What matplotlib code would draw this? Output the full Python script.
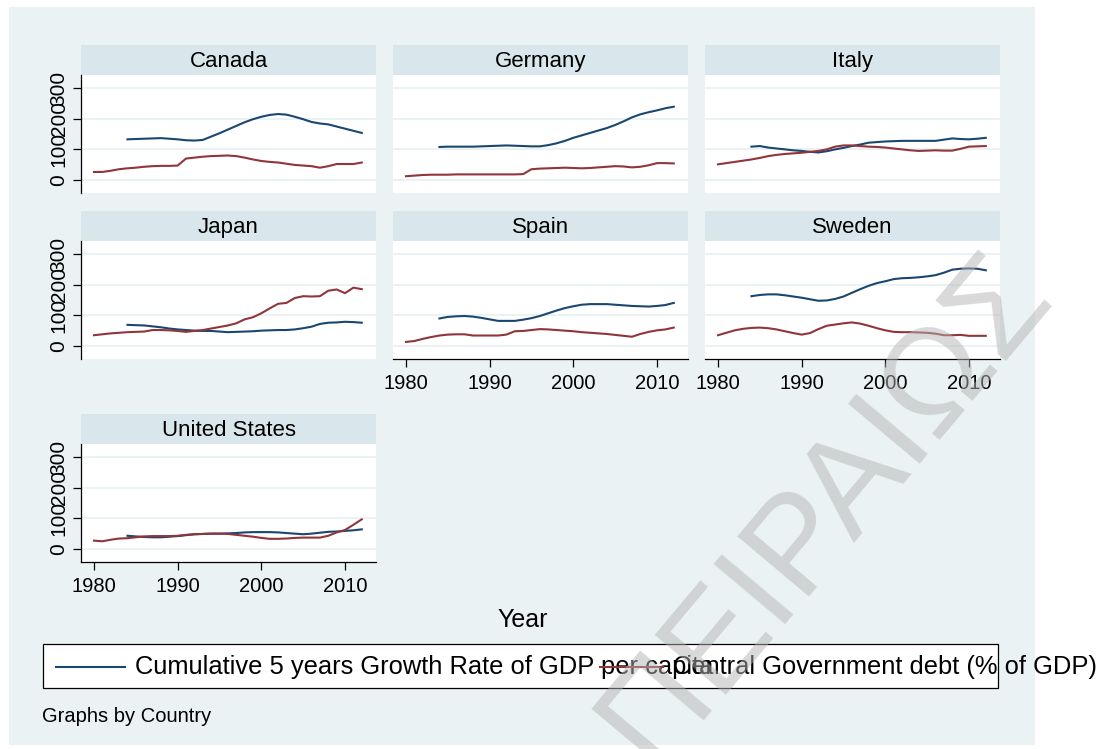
import matplotlib.pyplot as plt
from matplotlib.patches import Rectangle
from matplotlib.lines import Line2D

plt.rcParams['font.family'] = ['Liberation Sans', 'DejaVu Sans']

W, H = 1109, 749

years = list(range(1980, 2013))
growth_years = list(range(1984, 2013))

countries = ["Canada", "Germany", "Italy", "Japan", "Spain", "Sweden", "United States"]

# Central Government debt (% of GDP), 1980-2012
debt_canada = [26, 26, 30, 35, 38, 40, 43, 45, 46, 46, 47, 70, 73, 76, 78, 79, 80, 78, 73, 67,
               62, 59, 57, 53, 49, 47, 45, 40, 45, 52, 52, 52, 57]
debt_germany = [12, 14, 16, 17, 17, 17, 18, 18, 18, 18, 18, 18, 18, 18, 19, 35, 37, 38, 39, 40,
                39, 38, 39, 41, 43, 45, 44, 41, 43, 48, 55, 55, 54]
debt_italy = [51, 55, 59, 63, 67, 72, 78, 82, 85, 87, 89, 92, 95, 100, 109, 113, 113, 111, 109, 108,
              106, 103, 100, 97, 95, 96, 97, 96, 96, 102, 109, 110, 111]
debt_japan = [35, 38, 41, 43, 45, 46, 47, 52, 52, 51, 49, 46, 49, 52, 57, 62, 67, 74, 87, 94,
              107, 123, 138, 141, 157, 163, 162, 163, 181, 185, 173, 191, 186]
debt_spain = [13, 16, 23, 29, 34, 37, 38, 38, 34, 34, 34, 34, 37, 48, 49, 52, 55, 54, 52, 50,
              48, 45, 43, 41, 39, 36, 33, 30, 39, 46, 51, 54, 60]
debt_sweden = [35, 43, 51, 56, 59, 60, 58, 54, 48, 42, 37, 42, 55, 66, 70, 74, 77, 73, 66, 58,
               51, 46, 45, 45, 44, 43, 40, 35, 35, 36, 33, 33, 33]
debt_us = [27, 25, 30, 34, 35, 38, 41, 42, 42, 42, 43, 46, 48, 49, 50, 50, 49, 46, 43, 40,
           36, 33, 33, 34, 36, 37, 37, 37, 43, 54, 62, 79, 97]

# Cumulative 5 years growth rate of GDP per capita, 1984-2012
growth_canada = [133, 134, 135, 136, 137, 135, 133, 130, 129, 131, 142, 153, 165, 177, 189, 199,
                 207, 213, 216, 214, 207, 199, 190, 185, 182, 175, 168, 161, 154]
growth_germany = [108, 109, 109, 109, 109, 110, 111, 112, 113, 112, 111, 110, 110, 114, 120, 128,
                  138, 146, 154, 162, 170, 180, 192, 205, 215, 222, 228, 235, 240]
growth_italy = [109, 111, 106, 103, 100, 97, 95, 92, 90, 94, 100, 105, 111, 116, 122, 124,
                126, 127, 128, 128, 128, 128, 128, 132, 136, 134, 133, 135, 138]
growth_japan = [69, 68, 67, 64, 61, 57, 54, 52, 50, 49, 49, 47, 45, 46, 47, 48,
                50, 51, 52, 52, 54, 58, 63, 72, 76, 77, 79, 78, 76]
growth_spain = [90, 95, 97, 98, 96, 92, 87, 82, 82, 82, 86, 91, 98, 107, 116, 124,
                130, 135, 137, 137, 137, 135, 133, 131, 130, 129, 131, 134, 141]
growth_sweden = [163, 167, 169, 169, 166, 162, 158, 153, 148, 149, 154, 162, 174, 186, 197, 206,
                 212, 219, 222, 223, 225, 228, 232, 240, 250, 253, 254, 253, 248]
growth_us = [43, 41, 39, 38, 38, 40, 42, 45, 48, 49, 50, 50, 51, 52, 54, 55,
             55, 55, 54, 52, 50, 48, 50, 53, 56, 57, 59, 61, 64]

debt = [debt_canada, debt_germany, debt_italy, debt_japan, debt_spain, debt_sweden, debt_us]
growth = [growth_canada, growth_germany, growth_italy, growth_japan, growth_spain, growth_sweden, growth_us]

x_ticks = [1980, 1990, 2000, 2010]
y_ticks = [0, 100, 200, 300]

growth_label = "Cumulative 5 years Growth Rate of GDP per capita"
debt_label = "Central Government debt (% of GDP)"

NAVY = "#1A476F"
MAROON = "#90353B"
BG = "#EAF2F3"
STRIP = "#D9E6EB"


def box(x0, y0, x1, y1):
    # pixel box -> figure fraction
    return [x0 / W, 1 - y1 / H, (x1 - x0) / W, (y1 - y0) / H]


fig = plt.figure(figsize=(W / 100, H / 100), dpi=100, facecolor="white")
fig.patches.append(Rectangle((9 / W, 1 - 745 / H), (1035 - 9) / W, (745 - 7) / H,
                             transform=fig.transFigure, facecolor=BG, edgecolor="none", zorder=-10))

cols = [(81, 376), (393, 688), (705, 1000)]
rows = [(45, 75, 193), (211, 241, 359), (414, 444, 562)]

for i, name in enumerate(countries):
    r, c = divmod(i, 3)
    x0, x1 = cols[c]
    s0, p0, p1 = rows[r]

    st = fig.add_axes(box(x0, s0, x1, p0))
    st.set_facecolor(STRIP)
    st.set_xticks([])
    st.set_yticks([])
    for sp in st.spines.values():
        sp.set_visible(False)
    st.text(0.5, 0.45, name, ha="center", va="center", fontsize=16, transform=st.transAxes)

    ax = fig.add_axes(box(x0, p0, x1, p1))
    ax.set_facecolor("white")
    ax.set_xlim(1978.45, 2013.7)
    ax.set_ylim(-43, 344)
    for yv in y_ticks:
        ax.axhline(yv, color=BG, lw=1.4, zorder=1)
    ax.plot(growth_years, growth[i], color=NAVY, lw=1.5, zorder=3)
    ax.plot(years, debt[i], color=MAROON, lw=1.5, zorder=3)

    for sp in ["top", "right"]:
        ax.spines[sp].set_visible(False)

    show_x = name in ("Spain", "Sweden", "United States")
    show_y = c == 0
    ax.spines["bottom"].set_visible(show_x)
    ax.spines["left"].set_visible(show_y)
    ax.spines["bottom"].set_linewidth(0.9)
    ax.spines["left"].set_linewidth(0.9)
    if show_x:
        ax.set_xticks(x_ticks)
        ax.tick_params(axis="x", direction="out", length=6, width=0.9, labelsize=14.5, pad=5)
    else:
        ax.set_xticks([])
    if show_y:
        ax.set_yticks(y_ticks)
        ax.set_yticklabels([str(v) for v in y_ticks], rotation=90, va="center")
        ax.tick_params(axis="y", direction="out", length=6, width=0.9, labelsize=15, pad=3)
    else:
        ax.set_yticks([])

fig.text(523 / W, 1 - 620 / H, "Year", ha="center", va="center", fontsize=18)

# legend
fig.patches.append(Rectangle((43 / W, 1 - 688 / H), (998 - 43) / W, (688 - 644) / H,
                             transform=fig.transFigure, facecolor="white", edgecolor="black",
                             lw=0.9, zorder=2))
ly = 1 - 667 / H
fig.lines.append(Line2D([56 / W, 125 / W], [ly, ly], transform=fig.transFigure,
                        color=NAVY, lw=1.5, zorder=3))
fig.text(135 / W, ly, growth_label, ha="left", va="center", fontsize=18.4, zorder=4)
fig.lines.append(Line2D([600 / W, 663 / W], [ly, ly], transform=fig.transFigure,
                        color=MAROON, lw=1.5, zorder=5))
fig.text(673 / W, ly, debt_label, ha="left", va="center", fontsize=18.4, zorder=6)

fig.text(42 / W, 1 - 717 / H, "Graphs by Country", ha="left", va="center", fontsize=14.5)

# watermark
fig.text(826 / W, 1 - 508 / H, "ΠΕΙΡΑΙΩΣ", ha="center", va="center", rotation=50,
         rotation_mode="anchor", fontsize=98, color="#b4b4b4", alpha=0.5, zorder=20)

fig.savefig("out.png", dpi=100, facecolor="white")
